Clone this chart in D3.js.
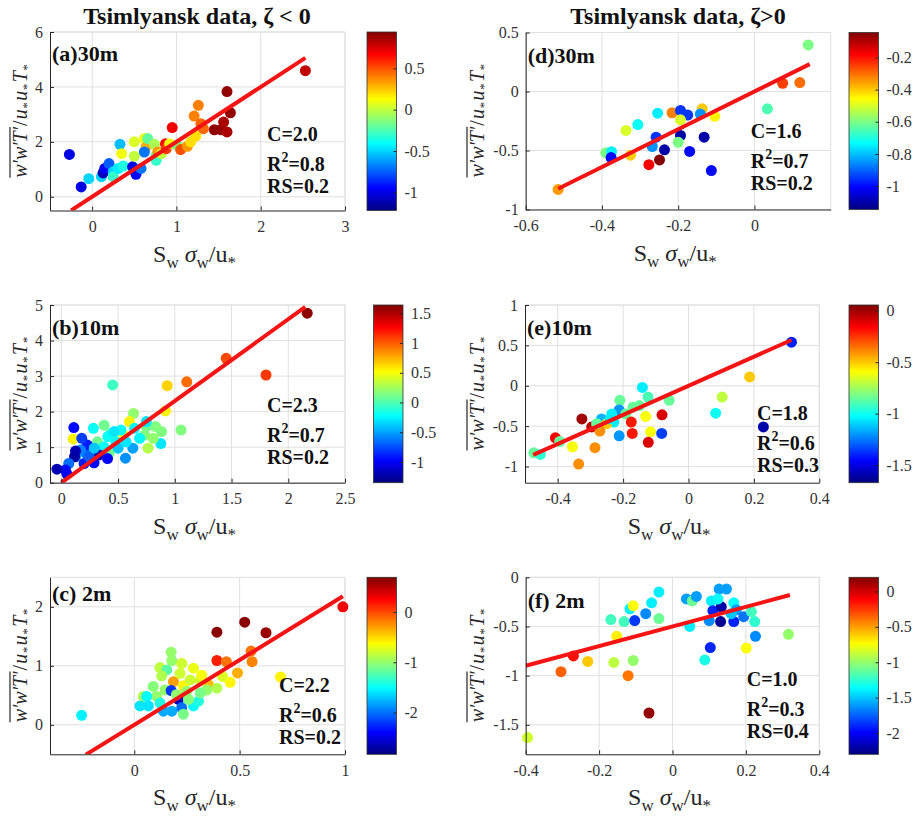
<!DOCTYPE html>
<html lang="en">
<head>
<meta charset="UTF-8">
<title>Tsimlyansk data</title>
<script src="https://cdn.jsdelivr.net/npm/d3@7"></script>
<style>
    body { margin: 0; background: #fff; }
    svg { display: block; font-family: "Liberation Serif", "Times New Roman", serif; }
    .grid line { stroke: #e0e0e0; stroke-width: 1; }
    .frame { stroke: #e0e0e0; fill: none; }
    .axis path, .axis line { stroke: #262626; }
    .title { font-size: 24px; font-weight: bold; fill: #111; }
    .tag { font-size: 22px; font-weight: bold; fill: #111; }
    .stat { font-size: 20px; font-weight: bold; fill: #111; }
    .xlab { font-size: 24px; fill: #262626; }
    .ylab { font-size: 20px; font-style: italic; fill: #262626; }
</style>
</head>
<body>
<svg width="916" height="822"></svg>
<script>
// [S_w*sigma_w/u*, w'w'T'/u*u*T*, colour value] for each height
const pointsA = [[-0.27,1.54,-1.0],[-0.13,0.36,-1.0],[-0.04,0.66,-0.5],[0.11,0.73,-0.5],[0.13,0.87,-1.1],[0.15,1.03,-0.95],
    [0.20,1.21,-0.75],[0.25,0.91,-0.5],[0.25,0.73,-0.3],[0.31,1.03,-0.45],[0.33,1.91,-0.55],[0.35,1.57,0.1],[0.37,1.12,-0.35],
    [0.48,1.09,-1.0],[0.52,0.82,-0.95],[0.58,1.03,-0.7],[0.50,2.00,0.05],[0.50,1.48,0.0],[0.62,2.12,0.1],[0.64,1.81,0.3],
    [0.66,2.12,-0.2],[0.62,1.63,-0.7],[0.74,1.91,-0.05],[0.76,1.51,-0.2],[0.76,1.33,-0.3],[0.78,1.63,0.35],[0.82,1.57,0.0],
    [0.87,1.93,0.65],[0.88,1.75,0.55],[0.95,2.52,0.7],[0.92,1.93,0.1],[1.01,1.87,-0.15],[1.05,1.72,0.5],[1.13,1.84,0.35],
    [1.17,2.00,0.2],[1.23,2.21,0.2],[1.21,2.94,0.4],[1.26,3.33,0.4],[1.29,2.66,0.45],[1.32,2.48,0.45],[1.45,2.44,0.9],
    [1.53,2.44,0.9],[1.56,2.72,0.85],[1.60,2.36,0.85],[1.60,3.83,0.9],[1.64,3.06,0.9],[2.53,4.59,0.8]];
const pointsB = [[2.167,4.77,1.6],[1.453,3.5,1.05],[1.804,3.03,1.1],[1.105,2.84,0.95],[0.933,2.73,0.65],[0.918,2.02,0.55],
    [0.452,2.75,-0.05],[0.636,1.95,0.2],[0.60,1.72,0.55],[1.055,1.48,0.15],[0.883,1.44,0.15],[0.83,1.58,0.15],[0.75,1.58,0.1],
    [0.734,1.34,0.15],[0.764,0.97,0.3],[0.877,1.1,-0.3],[0.69,1.25,-0.25],[0.63,0.97,-0.5],[0.565,0.69,-0.55],[0.55,1.34,0.5],
    [0.526,1.48,-0.2],[0.48,1.15,-0.25],[0.377,1.62,0.1],[0.437,1.39,0.0],[0.282,1.53,-0.2],[0.318,1.15,0.1],[0.377,1.01,-0.2],
    [0.422,0.83,0.1],[0.333,0.78,-1.2],[0.407,0.68,-1.0],[0.288,0.56,-0.95],[0.214,0.83,-0.6],[0.229,1.06,-0.9],[0.17,0.92,-0.6],
    [0.125,0.73,-0.55],[0.11,1.55,-0.95],[0.104,1.23,0.55],[0.125,0.89,-1.2],[0.116,0.73,-1.25],[0.065,0.54,-0.65],
    [0.036,0.36,-0.95],[-0.039,0.38,-1.2],[0.05,0.24,-1.0],[0.2,0.54,-0.9],[0.244,0.73,-0.7],[0.749,1.72,-0.3],[0.645,1.53,-0.25],
    [0.81,1.25,0.2],[0.5,0.97,-0.4],[0.41,1.3,-0.2],[0.57,1.15,-0.3],[0.18,1.25,-0.8],[0.29,0.97,-0.4],[0.466,1.44,-0.3]];
const pointsC = [[0.186,0.73,-0.3],[0.99,2.0,0.3],[0.524,1.74,0.65],[0.392,1.57,0.65],[0.625,1.56,0.6],[0.392,1.09,0.15],
    [0.554,1.25,-0.15],[0.559,1.07,-0.2],[0.437,1.07,-0.15],[0.49,0.88,-0.35],[0.694,0.81,-0.6],[0.455,0.72,-0.6],[0.419,0.82,-0.75],
    [0.352,0.68,-0.4],[0.313,0.75,-0.8],[0.233,0.66,-0.6],[0.175,1.23,-1.0],[0.178,1.09,-1.0],[0.122,0.97,-0.85],[0.154,0.93,-1.2],
    [0.225,1.04,-0.8],[0.281,0.96,-0.7],[0.13,0.83,-0.9],[0.217,0.87,-0.8],[0.146,0.59,-1.0],[0.175,0.58,-2.2],[0.21,0.43,-2.6],
    [0.106,0.48,-1.0],[0.043,0.48,-0.9],[0.059,0.48,-1.5],[0.027,0.32,-1.6],[0.067,0.32,-1.6],[0.138,0.23,-1.8],[0.178,0.23,-1.8],
    [0.225,0.29,-2.0],[0.233,0.18,-1.1],[0.281,0.32,-1.5],[0.305,0.4,-1.4],[0.344,0.59,-1.0],[0.313,0.54,-1.1],[0.249,0.57,-1.0],
    [-0.25,0.16,-1.55],[0.392,0.62,-0.9],[0.265,0.76,-0.8],[0.09,0.65,-1.05],[0.122,0.37,-1.4],[0.257,0.43,-1.05],[0.32,0.84,-0.65],
    [0.2,0.51,-1.0]];
const pointsD = [[0.141,0.395,-0.6],[0.074,0.07,-0.25],[0.119,0.076,-0.3],[0.034,-0.147,-0.65],[-0.104,-0.21,-0.45],
    [-0.137,-0.147,-0.4],[-0.142,-0.19,-0.85],[-0.216,-0.18,-0.32],[-0.194,-0.16,-0.95],[-0.175,-0.2,-0.95],[-0.194,-0.24,-0.5],
    [-0.254,-0.184,-0.75],[-0.306,-0.28,-0.72],[-0.337,-0.33,-0.5],[-0.258,-0.387,-0.95],[-0.268,-0.466,-0.85],[-0.194,-0.373,-1.1],
    [-0.132,-0.387,-1.1],[-0.2,-0.43,-0.6],[-0.236,-0.494,-1.1],[-0.17,-0.508,-1.0],[-0.249,-0.58,-0.05],[-0.277,-0.62,-0.18],
    [-0.325,-0.54,-0.4],[-0.39,-0.52,-0.6],[-0.375,-0.51,-0.75],[-0.376,-0.56,-1.0],[-0.113,-0.67,-1.0],[-0.515,-0.83,-0.35]];
const pointsE = [[0.315,0.54,-1.4],[0.187,0.11,-0.5],[0.103,-0.14,-0.7],[0.083,-0.34,-1.0],[0.229,-0.51,-1.6],[-0.141,-0.02,-1.05],
    [-0.124,-0.14,-0.9],[-0.059,-0.18,-0.85],[-0.21,-0.18,-0.85],[-0.15,-0.245,-0.85],[-0.212,-0.3,-1.2],[-0.235,-0.35,-1.05],
    [-0.266,-0.41,-1.15],[-0.228,-0.45,-1.05],[-0.25,-0.47,-0.5],[-0.192,-0.35,-0.85],[-0.175,-0.45,-0.2],[-0.131,-0.38,-0.6],
    [-0.081,-0.36,-0.1],[-0.172,-0.59,-0.2],[-0.212,-0.62,-1.2],[-0.116,-0.57,-0.6],[-0.082,-0.59,-1.35],[-0.123,-0.7,-0.1],
    [-0.326,-0.41,0.0],[-0.296,-0.51,-0.05],[-0.271,-0.56,-0.4],[-0.281,-0.47,-0.85],[-0.407,-0.645,-0.15],[-0.394,-0.69,-0.85],
    [-0.355,-0.755,-0.6],[-0.286,-0.767,-0.4],[-0.336,-0.97,-0.4],[-0.473,-0.83,-0.85],[-0.453,-0.85,-0.95],[-0.24,-0.41,-1.05],
    [-0.17,-0.265,-0.85]];
const pointsF = [[-0.395,-1.63,-0.85],[-0.304,-0.96,-0.35],[-0.27,-0.8,-0.15],[-0.231,-0.856,-0.6],[-0.16,-0.866,-0.9],
    [-0.107,-0.846,-1.0],[-0.121,-1.0,-0.4],[-0.064,-1.38,0.15],[-0.152,-0.6,-0.7],[-0.168,-0.43,-1.2],[-0.132,-0.45,-1.2],
    [-0.116,-0.32,-1.4],[-0.107,-0.29,-0.75],[-0.103,-0.44,-1.85],[-0.073,-0.37,-1.65],[-0.057,-0.26,-1.4],[-0.037,-0.15,-1.4],
    [-0.037,-0.42,-1.1],[0.038,-0.22,-1.6],[0.054,-0.24,-1.1],[0.065,-0.195,-1.6],[0.047,-0.5,-1.4],[0.106,-0.24,-1.4],
    [0.127,-0.12,-1.6],[0.147,-0.12,-1.6],[0.11,-0.34,-1.9],[0.133,-0.3,-2.2],[0.131,-0.45,-2.25],[0.1,-0.44,-1.65],
    [0.124,-0.22,-1.35],[0.167,-0.26,-1.35],[0.174,-0.33,-1.6],[0.167,-0.45,-1.9],[0.194,-0.4,-1.7],[0.215,-0.35,-1.2],
    [0.224,-0.45,-1.25],[0.226,-0.6,-1.65],[0.316,-0.58,-1.0],[0.201,-0.72,-0.75],[0.103,-0.715,-1.9],[0.088,-0.84,-1.3],
    [0.16,-0.37,-1.5]];

const series = [pointsA, pointsB, pointsC, pointsD, pointsE, pointsF];
const tags = ["(a)30m", "(b)10m", "(c) 2m", "(d)30m", "(e)10m", "(f) 2m"];
const fitC = [2.0, 2.3, 2.2, 1.6, 1.8, 1.0];
const fitB = [0, 0, 0, 0, 0, -0.5];
const fitFrom = [-0.25, 0, -0.23, -0.515, -0.475, -0.4];
const fitTo = [2.53, 2.15, 0.99, 0.145, 0.315, 0.32];
const r2 = ["0.8", "0.7", "0.6", "0.7", "0.6", "0.3"];
const rs = ["0.2", "0.2", "0.2", "0.2", "0.3", "0.4"];
const xTicks = [[0, 1, 2, 3], [0, 0.5, 1, 1.5, 2, 2.5], [0, 0.5, 1], [-0.6, -0.4, -0.2, 0], [-0.4, -0.2, 0, 0.2, 0.4], [-0.4, -0.2, 0, 0.2, 0.4]];
const yTicks = [[0, 2, 4, 6], [0, 1, 2, 3, 4, 5], [0, 1, 2], [-1, -0.5, 0, 0.5], [-1, -0.5, 0, 0.5, 1], [-1.5, -1, -0.5, 0]];
const cTicks = [[-1, -0.5, 0, 0.5], [-1, -0.5, 0, 0.5, 1, 1.5], [-2, -1, 0], [-1, -0.8, -0.6, -0.4, -0.2], [-1.5, -1, -0.5, 0], [-2, -1.5, -1, -0.5, 0]];
const titles = ["Tsimlyansk data, \u03b6 < 0", "Tsimlyansk data, \u03b6>0"];

// axes boxes, limits and text placement
const layout = [
    { l: 50, t: 32, r: 345, b: 210.5, xd: [-0.5, 3], yd: [-0.5, 6], cd: [-1.22, 0.94], cbx: 367, sx: 217, sy: 109, ty: 29, ylx: 27 },
    { l: 50, t: 305, r: 345, b: 482.7, xd: [-0.1, 2.5], yd: [0, 5], cd: [-1.35, 1.64], cbx: 373.5, sx: 217, sy: 107, ty: 30, ylx: 27 },
    { l: 50, t: 577.3, r: 345, b: 754.3, xd: [-0.4, 1], yd: [-0.5, 2.5], cd: [-2.83, 0.69], cbx: 367, sx: 229, sy: 115, ty: 24, ylx: 27 },
    { l: 525.7, t: 32.5, r: 830.7, b: 209.5, xd: [-0.6, 0.2], yd: [-1, 0.5], cd: [-1.145, -0.045], cbx: 849, sx: 225, sy: 105, ty: 30, ylx: 484 },
    { l: 525, t: 305, r: 819.3, b: 482.7, xd: [-0.5, 0.4], yd: [-1.2, 1], cd: [-1.67, 0.055], cbx: 849, sx: 232, sy: 115, ty: 30, ylx: 484 },
    { l: 525.7, t: 577.3, r: 819.3, b: 754.3, xd: [-0.4, 0.4], yd: [-1.8, 0], cd: [-2.3, 0.2], cbx: 849, sx: 221, sy: 109, ty: 31, ylx: 484 }
];

// MATLAB-style jet colormap
function jet(t) {
    const c = v => Math.max(0, Math.min(1, v)) * 255;
    return d3.rgb(c(1.5 - Math.abs(4 * t - 3)), c(1.5 - Math.abs(4 * t - 2)), c(1.5 - Math.abs(4 * t - 1))).toString();
}

const svg = d3.select("svg");
svg.append("rect").attr("width", 916).attr("height", 822).attr("fill", "#fff");

const defs = svg.append("defs");
const grad = defs.append("linearGradient").attr("id", "jet")
    .attr("x1", 0).attr("y1", 1).attr("x2", 0).attr("y2", 0);
grad.selectAll("stop").data(d3.range(0, 1.0001, 1 / 32)).join("stop")
    .attr("offset", d => d).attr("stop-color", d => jet(d));

const fmt = d => String(d);

// serif tick labels, like the rest of the figure
function styleAxis(sel) {
    sel.attr("font-family", null).attr("font-size", null);
    sel.selectAll("text")
        .style("font-family", "'Liberation Serif', serif")
        .style("font-size", "16px")
        .style("fill", "#333");
}

svg.selectAll(".title").data(titles).join("text")
    .attr("class", "title")
    .attr("x", (d, i) => i ? 678 : 197)
    .attr("y", 24)
    .attr("text-anchor", "middle")
    .text(d => d);

layout.forEach((p, i) => {
    const x = d3.scaleLinear().domain(p.xd).range([p.l, p.r]);
    const y = d3.scaleLinear().domain(p.yd).range([p.b, p.t]);
    const color = d3.scaleSequential(jet).domain(p.cd).clamp(true);
    const g = svg.append("g");

    // grid
    const grid = g.append("g").attr("class", "grid");
    grid.selectAll(".gx").data(xTicks[i]).join("line")
        .attr("x1", d => x(d)).attr("x2", d => x(d)).attr("y1", p.t).attr("y2", p.b);
    grid.selectAll(".gy").data(yTicks[i]).join("line")
        .attr("y1", d => y(d)).attr("y2", d => y(d)).attr("x1", p.l).attr("x2", p.r);
    g.append("path").attr("class", "frame")
        .attr("d", `M${p.l},${p.t}H${p.r}V${p.b}`);

    defs.append("clipPath").attr("id", "clip" + i)
        .append("rect").attr("x", p.l).attr("y", p.t).attr("width", p.r - p.l).attr("height", p.b - p.t);

    // scatter
    g.append("g").selectAll("circle").data(series[i]).join("circle")
        .attr("cx", d => x(d[0]))
        .attr("cy", d => y(d[1]))
        .attr("r", 5.5)
        .attr("fill", d => color(d[2]));

    // fitted line
    const line = d3.line().x(d => x(d)).y(d => y(fitC[i] * d + fitB[i]));
    g.append("path").datum([fitFrom[i], fitTo[i]])
        .attr("clip-path", `url(#clip${i})`)
        .attr("d", line)
        .attr("stroke", "#f41414")
        .attr("stroke-width", 4)
        .attr("fill", "none");

    // axes
    g.append("g").attr("class", "axis")
        .attr("transform", `translate(0,${p.b})`)
        .call(d3.axisBottom(x).tickValues(xTicks[i]).tickFormat(fmt).tickSizeInner(-4).tickSizeOuter(0).tickPadding(10))
        .call(styleAxis);
    g.append("g").attr("class", "axis")
        .attr("transform", `translate(${p.l},0)`)
        .call(d3.axisLeft(y).tickValues(yTicks[i]).tickFormat(fmt).tickSizeInner(-4).tickSizeOuter(0).tickPadding(7))
        .call(styleAxis);

    // panel tag and statistics
    g.append("text").attr("class", "tag")
        .attr("x", p.l + 2).attr("y", p.t + p.ty).text(tags[i]);
    const sx = p.l + p.sx, sy = p.t + p.sy;
    g.append("text").attr("class", "stat").attr("x", sx).attr("y", sy).text(`C=${fitC[i].toFixed(1)}`);
    const rt = g.append("text").attr("class", "stat").attr("x", sx).attr("y", sy + 30);
    rt.append("tspan").text("R");
    rt.append("tspan").attr("font-size", 14).attr("dy", -9).text("2");
    rt.append("tspan").attr("dy", 9).text("=" + r2[i]);
    g.append("text").attr("class", "stat").attr("x", sx).attr("y", sy + 52).text("RS=" + rs[i]);

    // x label: S_w sigma_w / u_*
    const xl = g.append("text").attr("class", "xlab")
        .attr("x", (p.l + p.r) / 2 - 3).attr("y", p.b + 51)
        .attr("text-anchor", "middle");
    xl.append("tspan").text("S");
    xl.append("tspan").attr("font-size", 17).attr("dy", 6).text("w");
    xl.append("tspan").attr("dy", -6).text(" ");
    xl.append("tspan").attr("font-style", "italic").text("\u03c3");
    xl.append("tspan").attr("font-size", 17).attr("dy", 6).text("w");
    xl.append("tspan").attr("dy", -6).text("/u");
    xl.append("tspan").attr("font-size", 17).attr("dy", 6).text("*");

    // y label: overline(w'w'T') / u_* u_* T_*
    const yg = g.append("g").attr("transform", `translate(${p.ylx},${(p.t + p.b) / 2}) rotate(-90)`);
    const yl = yg.append("text").attr("class", "ylab").attr("text-anchor", "middle");
    yl.append("tspan").text("w\u2032w\u2032T\u2032");
    yl.append("tspan").attr("font-style", "normal").attr("dx", 1).text("/");
    ["u", "u", "T"].forEach((s, k) => {
        yl.append("tspan").attr("dy", k ? -4 : 0).attr("dx", k ? 2 : 1).text(s);
        yl.append("tspan").attr("font-size", 13).attr("dy", 4).text("*");
    });
    const node = yl.node();
    const x0 = node.getStartPositionOfChar(0).x, x1 = node.getEndPositionOfChar(5).x;
    yg.append("line").attr("x1", x0).attr("x2", x1).attr("y1", -17).attr("y2", -17)
        .attr("stroke", "#262626").attr("stroke-width", 1.2);

    // colorbar
    const cw = 29.5;
    const cs = d3.scaleLinear().domain(p.cd).range([p.b, p.t]);
    g.append("rect").attr("x", p.cbx).attr("y", p.t).attr("width", cw).attr("height", p.b - p.t)
        .attr("fill", "url(#jet)").attr("stroke", "#333").attr("stroke-width", 0.8);
    const ca = g.append("g").attr("class", "axis")
        .attr("transform", `translate(${p.cbx + cw},0)`)
        .call(d3.axisRight(cs).tickValues(cTicks[i]).tickFormat(fmt).tickSizeInner(-3).tickSizeOuter(0).tickPadding(8))
        .call(styleAxis);
    ca.select(".domain").remove();
});
</script>
</body>
</html>
